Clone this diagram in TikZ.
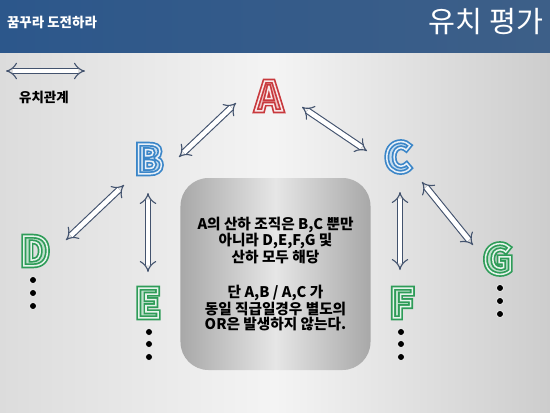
\documentclass[tikz,border=0pt]{standalone}
\usepackage{fontspec}
\setmainfont{Noto Sans CJK KR}
\usetikzlibrary{arrows.meta}

\definecolor{hdrL}{HTML}{2C578B}
\definecolor{hdrR}{HTML}{3D5F88}
\definecolor{bgL}{HTML}{DCDCDC}
\definecolor{bgM}{HTML}{F4F4F4}
\definecolor{bgR}{HTML}{CDCDCD}
\definecolor{boxEdge}{HTML}{A8A8A8}
\definecolor{boxMid}{HTML}{E6E6E6}
\definecolor{topred}{HTML}{C8393D}
\definecolor{midblue}{HTML}{3B86C8}
\definecolor{lowgreen}{HTML}{2E9C58}
\definecolor{arrowline}{HTML}{43536E}

% hollow letter: tinted fill, coloured stroke, white inner stroke
\newcommand{\hollow}[2]{%
  \rlap{\color{#1!30}#2}%
  \rlap{\special{pdf:literal direct 1 Tr 4.2 w}\color{#1}#2\special{pdf:literal direct 0 Tr}}%
  {\special{pdf:literal direct 1 Tr 1.3 w}\color{#1!12}#2\special{pdf:literal direct 0 Tr}}}

\begin{document}
\begin{tikzpicture}[x=0.03cm, y=-0.03cm]
	\tikzstyle{letter} = [inner sep=0, font=\fontsize{34}{34}\selectfont\bfseries]
	\tikzstyle{dot} = [circle, fill=black, draw=white, line width=0.5pt, inner sep=0, minimum size=6pt]
	\tikzstyle{rel} = [draw=arrowline, line width=0.95pt, double=white, double distance=4pt, {Implies[scale=1.35]}-{Implies[scale=1.35]}]
	\useasboundingbox (0,0) rectangle (550,412);
	% background and header
	\shade[left color=bgL, right color=bgR, middle color=bgM] (0,52) rectangle (550,412);
	\shade[left color=hdrL, right color=hdrR] (0,0) rectangle (550,52);
	\node[white, font=\fontsize{11.5}{12}\selectfont\bfseries] (motto) at (52,22) {꿈꾸라 도전하라};
	\node[white, font=\fontsize{25}{27}\selectfont] (title) at (486,22) {유치 평가};
	% legend
	\coordinate (legL) at (6,71);
	\coordinate (legR) at (85,71);
	\draw[rel] (legL) -- (legR);
	\node[font=\fontsize{11.5}{12}\selectfont\bfseries] (legend) at (44,97) {유치관계};
	% letters
	\node[letter] (A) at (269,96) {\hollow{topred}{A}};
	\node[letter] (B) at (149,159) {\hollow{midblue}{B}};
	\node[letter] (C) at (398,157) {\hollow{midblue}{C}};
	\node[letter] (D) at (35,251) {\hollow{lowgreen}{D}};
	\node[letter] (E) at (148,303) {\hollow{lowgreen}{E}};
	\node[letter] (F) at (402,303) {\hollow{lowgreen}{F}};
	\node[letter] (G) at (498,259) {\hollow{lowgreen}{G}};
	% relations
	\draw[rel] ([shift={(-33,7)}]A.center) -- ([shift={(30,-2)}]B.center);
	\draw[rel] ([shift={(33,11)}]A.center) -- ([shift={(-31,-6)}]C.center);
	\draw[rel] ([shift={(-25,26)}]B.center) -- ([shift={(31,-11)}]D.center);
	\draw[rel] ([shift={(-1,34)}]B.center) -- ([shift={(0,-31)}]E.center);
	\draw[rel] ([shift={(2,35)}]C.center) -- ([shift={(-2,-33)}]F.center);
	\draw[rel] ([shift={(24,25)}]C.center) -- ([shift={(-25,-14)}]G.center);
	% dots below the lower levels
	\foreach \y [count=\i] in {280,293,306} \node[dot] (dotD\i) at (33,\y) {};
	\foreach \y [count=\i] in {332,344,357} \node[dot] (dotE\i) at (149,\y) {};
	\foreach \y [count=\i] in {332,344,357} \node[dot] (dotF\i) at (401,\y) {};
	\foreach \y [count=\i] in {288,301,314} \node[dot] (dotG\i) at (500,\y) {};
	% note
	\node[rounded corners=0.84cm, left color=boxEdge, right color=boxEdge, middle color=boxMid,
		minimum width=5.7cm, minimum height=5.76cm, align=center,
		font=\fontsize{12.5}{12.9}\selectfont\bfseries] (note) at (275.5,274)
		{A의 산하 조직은 B,C 뿐만\\아니라 D,E,F,G 및\\산하 모두 해당\\[17pt]단 A,B / A,C 가\\동일 직급일경우 별도의\\OR은 발생하지 않는다.};
\end{tikzpicture}
\end{document}
